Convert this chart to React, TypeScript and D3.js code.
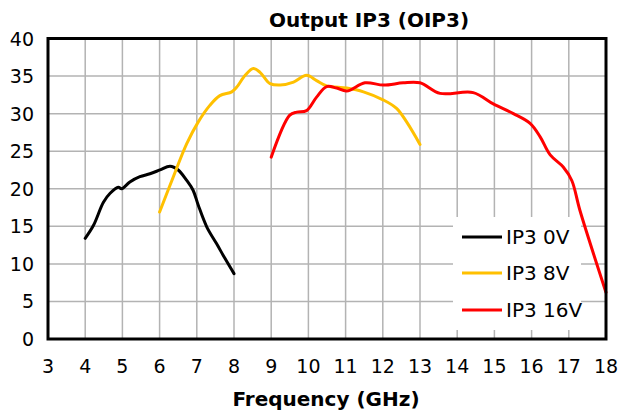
import React from "react";
import * as d3 from "d3";

const freq0V = [4.0, 4.22, 4.49, 4.67, 4.89, 4.98, 5.2, 5.47, 5.74, 6.01, 6.28, 6.5, 6.73, 6.9, 7.04, 7.27, 7.53, 7.76, 8.0];
const ip3_0V = [13.4, 15.1, 18.2, 19.4, 20.2, 20.0, 20.9, 21.6, 22.0, 22.5, 23.0, 22.5, 21.1, 19.8, 17.8, 14.9, 12.7, 10.7, 8.7];

const freq8V = [6.0, 6.37, 6.73, 7.04, 7.35, 7.62, 7.94, 8.07, 8.3, 8.52, 8.7, 8.97, 9.24, 9.6, 9.95, 10.22, 10.49, 11.03, 11.48, 12.02, 12.37, 12.64, 13.0];
const ip3_8V = [16.9, 21.6, 26.0, 28.9, 31.1, 32.4, 32.9, 33.5, 35.1, 36.0, 35.5, 34.0, 33.8, 34.2, 35.1, 34.4, 33.7, 33.4, 32.9, 31.8, 30.7, 28.9, 25.9];

const freq16V = [9.0, 9.5, 9.69, 9.95, 10.22, 10.49, 10.76, 11.03, 11.52, 12.02, 12.55, 13.0, 13.54, 14.43, 14.97, 15.51, 15.96, 16.23, 16.5, 16.85, 17.08, 17.3, 18.0];
const ip3_16V = [24.2, 29.8, 30.2, 30.4, 32.2, 33.6, 33.4, 33.0, 34.1, 33.8, 34.1, 34.1, 32.7, 32.8, 31.3, 30.0, 28.7, 26.9, 24.5, 22.9, 21.1, 17.1, 6.2];

const xTicks = [3, 4, 5, 6, 7, 8, 9, 10, 11, 12, 13, 14, 15, 16, 17, 18];
const yTicks = [0, 5, 10, 15, 20, 25, 30, 35, 40];

const seriesNames = ["IP3 0V", "IP3 8V", "IP3 16V"];
const seriesColors = ["#000000", "#FFC000", "#FF0000"];

const title = "Output IP3 (OIP3)";
const xTitle = "Frequency (GHz)";

export default function App() {
  const W = 626, H = 417;
  const left = 48, right = 606, top = 38.5, bottom = 339;
  const x = d3.scaleLinear().domain([3, 18]).range([left, right]);
  const y = d3.scaleLinear().domain([0, 40]).range([bottom, top]);
  const font = "'DejaVu Sans', sans-serif";

  const series = [
    freq0V.map((f, i) => [f, ip3_0V[i]]),
    freq8V.map((f, i) => [f, ip3_8V[i]]),
    freq16V.map((f, i) => [f, ip3_16V[i]]),
  ];
  const line = d3
    .line<number[]>()
    .x((d) => x(d[0]))
    .y((d) => y(d[1]))
    .curve(d3.curveCatmullRom.alpha(0.5));

  const legX = 453, legY = 217, legW = 128, legH = 113;
  const legRows = [237, 273, 310];

  return (
    <svg width={W} height={H} style={{ position: "absolute", left: 0, top: 0, background: "#fff" }}>
      <rect x={0} y={0} width={W} height={H} fill="#fff" />
      {xTicks.slice(1, -1).map((t) => (
        <line key={"vx" + t} x1={x(t)} x2={x(t)} y1={top} y2={bottom} stroke="#b3b3b3" strokeWidth={1.5} />
      ))}
      {yTicks.slice(1, -1).map((t) => (
        <line key={"hy" + t} x1={left} x2={right} y1={y(t)} y2={y(t)} stroke="#b3b3b3" strokeWidth={1.5} />
      ))}
      <rect x={legX} y={legY} width={legW} height={legH} fill="#fff" />
      {series.map((s, i) => (
        <path key={"s" + i} d={line(s as any) || ""} fill="none" stroke={seriesColors[i]} strokeWidth={3} strokeLinejoin="round" strokeLinecap="round" />
      ))}
      <rect x={left} y={top} width={right - left} height={bottom - top} fill="none" stroke="#000" strokeWidth={3} />
      {yTicks.map((t) => (
        <text key={"yl" + t} x={34} y={y(t) + 7} textAnchor="end" fontFamily={font} fontSize={19} fill="#000">
          {t}
        </text>
      ))}
      {xTicks.map((t) => (
        <text key={"xl" + t} x={x(t)} y={373} textAnchor="middle" fontFamily={font} fontSize={19} fill="#000">
          {t}
        </text>
      ))}
      <text x={326} y={406} textAnchor="middle" fontFamily={font} fontSize={20} fontWeight="bold" fill="#000">
        {xTitle}
      </text>
      <text x={369} y={27} textAnchor="middle" fontFamily={font} fontSize={20} fontWeight="bold" fill="#000">
        {title}
      </text>
      {seriesNames.map((n, i) => (
        <g key={"lg" + i}>
          <line x1={462} x2={502} y1={legRows[i]} y2={legRows[i]} stroke={seriesColors[i]} strokeWidth={3} />
          <text x={506} y={legRows[i] + 7} fontFamily={font} fontSize={20} fill="#000">
            {n}
          </text>
        </g>
      ))}
    </svg>
  );
}
